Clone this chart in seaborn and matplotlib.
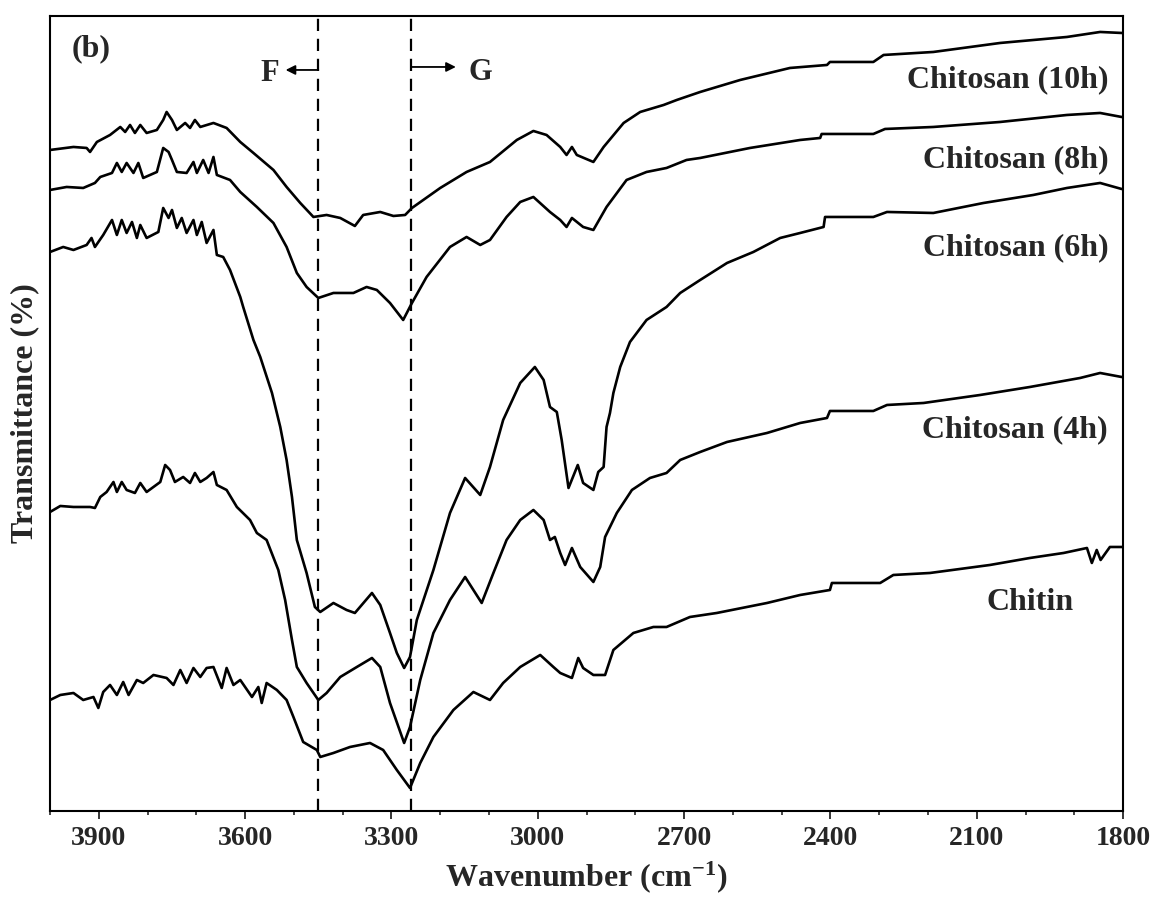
import numpy as np
import pandas as pd
import matplotlib
matplotlib.use("Agg")
import matplotlib.pyplot as plt
from matplotlib.ticker import MultipleLocator
import seaborn as sns

# ---------------- data ----------------
wn_10h = [4000, 3952, 3925, 3918, 3904, 3877, 3856, 3846, 3836, 3826, 3815, 3802, 3781, 3768, 3761,
          3750, 3740, 3723, 3713, 3703, 3692, 3665, 3638, 3610, 3583, 3542, 3515, 3487, 3460, 3433,
          3405, 3375, 3358, 3323, 3296, 3272, 3258, 3200, 3146, 3098, 3043, 3009, 2982, 2954, 2941,
          2930, 2920, 2886, 2865, 2824, 2790, 2742, 2715, 2667, 2585, 2483, 2407, 2401, 2312, 2291,
          2189, 2052, 1915, 1847, 1803, 1800]
t_10h = [661, 664, 663, 659, 669, 676, 684, 679, 686, 678, 686, 678, 681, 691, 699,
         691, 681, 688, 683, 691, 684, 688, 683, 669, 658, 641, 624, 608, 594, 596,
         593, 585, 596, 599, 595, 596, 603, 623, 639, 649, 671, 680, 676, 664, 656,
         664, 656, 649, 664, 688, 699, 706, 711, 719, 731, 743, 746, 749, 749, 756,
         759, 768, 774, 779, 778, 778]

wn_8h = [4000, 3966, 3932, 3908, 3897, 3873, 3863, 3853, 3843, 3829, 3819, 3809, 3781, 3768, 3757,
         3750, 3740, 3720, 3706, 3699, 3686, 3675, 3665, 3658, 3631, 3610, 3576, 3542, 3515, 3494,
         3474, 3450, 3419, 3378, 3351, 3330, 3303, 3276, 3258, 3228, 3180, 3146, 3118, 3098, 3064,
         3036, 3009, 2975, 2954, 2941, 2930, 2907, 2886, 2859, 2818, 2777, 2736, 2695, 2667, 2565,
         2462, 2421, 2418, 2312, 2288, 2189, 2052, 1915, 1847, 1803, 1800]
t_8h = [621, 624, 623, 628, 634, 638, 648, 639, 648, 638, 648, 633, 639, 663, 659,
        651, 639, 638, 649, 638, 651, 638, 654, 636, 631, 619, 604, 588, 564, 538,
        524, 513, 518, 518, 524, 521, 508, 491, 508, 534, 564, 574, 566, 571, 594,
        609, 614, 599, 591, 584, 593, 584, 581, 604, 631, 639, 643, 651, 653, 663,
        671, 673, 677, 677, 682, 684, 689, 696, 698, 694, 694]

wn_6h = [4000, 3973, 3952, 3925, 3915, 3908, 3891, 3873, 3863, 3853, 3843, 3832, 3822, 3815, 3802,
         3778, 3768, 3757, 3750, 3740, 3730, 3720, 3706, 3699, 3689, 3679, 3665, 3658, 3645, 3631,
         3610, 3604, 3583, 3569, 3545, 3528, 3515, 3504, 3494, 3474, 3457, 3446, 3419, 3392, 3375,
         3340, 3323, 3303, 3289, 3274, 3262, 3248, 3214, 3180, 3149, 3118, 3098, 3071, 3036, 3006,
         2988, 2975, 2961, 2951, 2937, 2918, 2907, 2886, 2876, 2865, 2859, 2852, 2845, 2831, 2811,
         2777, 2736, 2708, 2667, 2612, 2558, 2503, 2462, 2414, 2411, 2312, 2284, 2189, 2086, 1984,
         1915, 1847, 1803, 1800]
t_6h = [559, 564, 561, 566, 573, 564, 576, 591, 576, 591, 578, 589, 573, 586, 573,
        579, 603, 593, 601, 583, 593, 578, 591, 576, 589, 568, 581, 556, 554, 541,
        514, 504, 471, 454, 418, 384, 351, 314, 271, 238, 204, 199, 208, 201, 198,
        218, 206, 178, 158, 143, 154, 191, 241, 298, 333, 316, 344, 391, 428, 444,
        431, 404, 399, 371, 323, 346, 328, 321, 339, 344, 384, 398, 418, 444, 469,
        491, 504, 518, 531, 548, 559, 573, 578, 584, 594, 594, 599, 598, 608, 616,
        623, 628, 622, 622]

wn_4h = [4000, 3979, 3952, 3918, 3908, 3897, 3884, 3870, 3863, 3853, 3843, 3826, 3815, 3802, 3774,
         3764, 3754, 3744, 3727, 3713, 3703, 3692, 3679, 3665, 3658, 3638, 3617, 3590, 3576, 3556,
         3532, 3518, 3504, 3494, 3474, 3450, 3433, 3405, 3371, 3340, 3323, 3303, 3274, 3262, 3241,
         3214, 3180, 3149, 3115, 3091, 3064, 3036, 3009, 2988, 2975, 2965, 2954, 2944, 2930, 2913,
         2886, 2872, 2862, 2838, 2807, 2770, 2736, 2708, 2667, 2612, 2530, 2462, 2407, 2401, 2312,
         2284, 2209, 2093, 1991, 1888, 1847, 1803, 1800]
t_4h = [299, 305, 304, 304, 303, 314, 319, 329, 319, 329, 321, 318, 328, 319, 329,
        346, 341, 329, 334, 328, 338, 329, 333, 339, 326, 321, 304, 291, 278, 271,
        241, 211, 171, 144, 128, 111, 118, 134, 144, 153, 144, 108, 68, 84, 131,
        178, 211, 234, 208, 238, 271, 291, 301, 291, 271, 274, 258, 246, 263, 244,
        229, 244, 274, 298, 321, 333, 338, 351, 359, 369, 378, 388, 393, 400, 400,
        406, 408, 416, 424, 433, 438, 434, 434]

wn_chitin = [4000, 3979, 3952, 3932, 3911, 3901, 3891, 3877, 3863, 3850, 3839, 3822, 3809, 3788, 3761,
             3747, 3733, 3720, 3706, 3692, 3679, 3665, 3648, 3638, 3624, 3610, 3586, 3573, 3566, 3556,
             3535, 3515, 3501, 3481, 3453, 3446, 3419, 3385, 3344, 3317, 3289, 3262, 3241, 3214, 3173,
             3132, 3098, 3071, 3036, 2995, 2968, 2954, 2930, 2917, 2907, 2886, 2862, 2845, 2804, 2763,
             2736, 2688, 2633, 2530, 2462, 2401, 2397, 2298, 2271, 2196, 2073, 1991, 1922, 1874, 1864,
             1854, 1846, 1827, 1803, 1800]
t_chitin = [111, 116, 118, 111, 114, 103, 119, 126, 116, 129, 116, 131, 128, 136, 133,
            126, 141, 128, 143, 134, 143, 144, 123, 143, 126, 131, 114, 124, 108, 128,
            121, 111, 94, 69, 61, 54, 58, 64, 68, 61, 41, 23, 48, 74, 101,
            119, 111, 128, 144, 156, 144, 138, 133, 153, 143, 136, 136, 161, 178, 184,
            184, 194, 198, 208, 216, 221, 228, 228, 236, 238, 246, 253, 258, 263, 248,
            261, 251, 264, 264, 264]

series_names = ["Chitosan (10h)", "Chitosan (8h)", "Chitosan (6h)", "Chitosan (4h)", "Chitin"]
series_wn = [wn_10h, wn_8h, wn_6h, wn_4h, wn_chitin]
series_t = [t_10h, t_8h, t_6h, t_4h, t_chitin]

# label anchors (wavenumber, value) and alignment
label_wn = [1829, 1829, 1829, 1831, 1991]
label_t = [731, 651, 563, 381, 208]
label_ha = ["right", "right", "right", "right", "center"]

marker_lines = [3450, 3260]
x_ticks = [3900, 3600, 3300, 3000, 2700, 2400, 2100, 1800]

# ---------------- style ----------------
sns.set_theme(style="ticks")
plt.rcParams["font.family"] = ["Liberation Serif", "DejaVu Serif"]
plt.rcParams["font.weight"] = "bold"
plt.rcParams["mathtext.fontset"] = "custom"
plt.rcParams["mathtext.rm"] = "Liberation Serif:bold"
plt.rcParams["mathtext.it"] = "Liberation Serif:bold"
plt.rcParams["mathtext.bf"] = "Liberation Serif:bold"
plt.rcParams["mathtext.default"] = "rm"

fig = plt.figure(figsize=(11.56, 9.02), dpi=100)
ax = fig.add_axes([0.0433, 0.1009, 0.9282, 0.8814])

frames = []
for name, wn, t in zip(series_names, series_wn, series_t):
    frames.append(pd.DataFrame({"wavenumber": wn, "T": t, "sample": name}))
df = pd.concat(frames, ignore_index=True)

for name in series_names:
    sub = df[df["sample"] == name]
    sns.lineplot(data=sub, x="wavenumber", y="T", color="black", lw=1.9,
                 sort=False, estimator=None, ax=ax)

for xv in marker_lines:
    ax.axvline(xv, color="black", lw=1.6, linestyle=(0, (5.5, 3.5)), zorder=1)

ax.set_xlim(4000, 1800)
ax.set_ylim(0, 795)
ax.set_xticks(x_ticks)
ax.xaxis.set_minor_locator(MultipleLocator(100))
ax.set_yticks([])
ax.tick_params(axis="x", which="major", direction="out", length=6, width=1.3,
               labelsize=20, pad=5, top=False)
ax.tick_params(axis="x", which="minor", direction="out", length=3, width=1.2, top=False)
for lab in ax.get_xticklabels():
    lab.set_fontweight("bold")
for sp in ax.spines.values():
    sp.set_linewidth(1.5)
    sp.set_color("black")
    sp.set_visible(True)

ax.set_xlabel("Wavenumber (cm$^{-1}$)", fontsize=23, fontweight="bold", labelpad=6)
ax.set_ylabel("Transmittance (%)", fontsize=23, fontweight="bold", labelpad=8)

for name, xw, yt, ha in zip(series_names, label_wn, label_t, label_ha):
    ax.text(xw, yt, name, ha=ha, va="center", fontsize=23, fontweight="bold")

ax.text(3955, 762, "(b)", ha="left", va="center", fontsize=23, fontweight="bold")
ax.text(3549, 737, "F", ha="center", va="center", fontsize=22, fontweight="bold")
ax.text(3118, 738, "G", ha="center", va="center", fontsize=22, fontweight="bold")
ax.annotate("", xy=(3517, 741), xytext=(3450, 741),
            arrowprops=dict(arrowstyle="-|>", color="black", lw=1.3,
                            mutation_scale=14, shrinkA=0, shrinkB=0))
ax.annotate("", xy=(3168, 744), xytext=(3260, 744),
            arrowprops=dict(arrowstyle="-|>", color="black", lw=1.3,
                            mutation_scale=14, shrinkA=0, shrinkB=0))

fig.savefig("out.png", dpi=100)
